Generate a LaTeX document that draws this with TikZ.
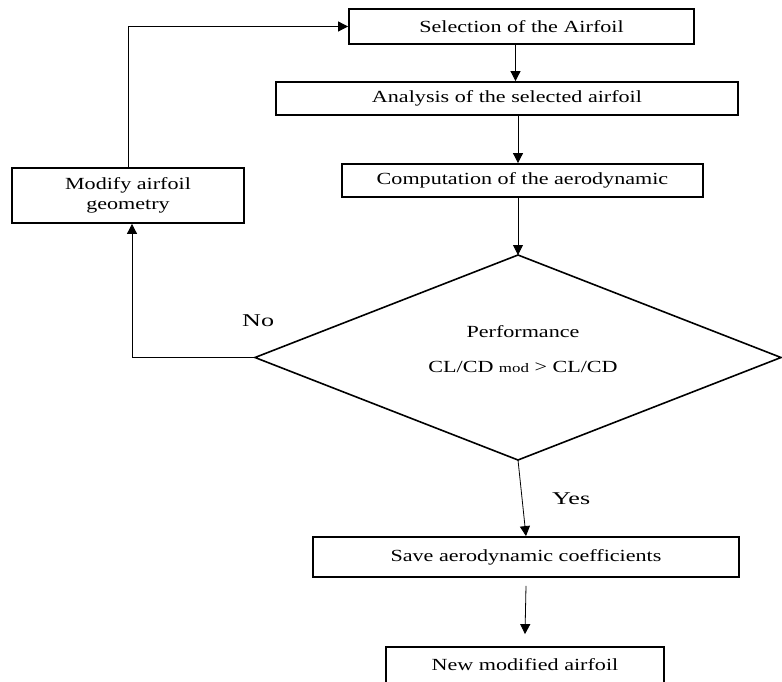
\documentclass[tikz,border=0pt]{standalone}
\usepackage{fontspec}
\setmainfont{Liberation Serif}[FakeStretch=1.3]
\newfontfamily\lblfont{Liberation Serif}[FakeStretch=1.45]
\usetikzlibrary{arrows.meta}
\begin{document}
\begin{tikzpicture}[x=1pt,y=-1pt,
  box/.style={draw,line width=1.8pt,inner sep=0pt,align=center,
    font=\fontsize{17}{20}\selectfont},
  arr/.style={line width=0.8pt,-{Triangle[length=10pt,width=10pt]}},
  plain/.style={line width=0.8pt},
  lbl/.style={font=\lblfont\fontsize{18}{20}\selectfont,anchor=base west,inner sep=0pt},
  dtext/.style={font=\fontsize{17}{20}\selectfont,anchor=base,inner sep=0pt}]
\useasboundingbox (0,0) rectangle (782,682);
% boxes
\node[box,minimum width=345pt,minimum height=35pt] (sel) at (521.5,26.5) {Selection of the Airfoil};
\node[box,minimum width=462pt,minimum height=33pt] (ana) at (507,98.5) {Analysis of the selected airfoil};
\node[box,minimum width=361pt,minimum height=33pt] (comp) at (522.5,180.5) {Computation of the aerodynamic};
\node[box,minimum width=232pt,minimum height=55pt] (mod) at (128,195.5) {Modify airfoil\\geometry};
\node[box,minimum width=426pt,minimum height=40pt] (save) at (526,557) {Save aerodynamic coefficients};
\node[box,minimum width=278pt,minimum height=36pt] (new) at (525,665) {New modified airfoil};
% decision diamond
\coordinate (dt) at (518,255);
\coordinate (dl) at (255,357.5);
\coordinate (db) at (518,460);
\coordinate (dr) at (781,357.5);
\draw[line width=1.6pt,line join=miter] (dt) -- (dr) -- (db) -- (dl) -- cycle;
\node[dtext] (perf) at (523,337) {Performance};
\node[dtext] (cond) at (523,372) {CL/CD {\fontsize{13}{15}\selectfont mod} > CL/CD};
% labels
\node[lbl] (no) at (242,326) {No};
\node[lbl] (yes) at (552,504) {Yes};
% connectors
\draw[arr] ([xshift=-6pt]sel.south) -- ([xshift=-6pt]sel.south |- ana.north);
\draw[arr] ([xshift=11pt]ana.south) -- ([xshift=11pt]ana.south |- comp.north);
\draw[arr] (dt |- comp.south) -- (dt);
\draw[arr] (db) -- (save.north);
\draw[arr] ([yshift=-8pt]save.south) -- ([yshift=12pt]new.north);
\draw[arr] (dl) -- ([xshift=4pt]mod.south |- dl) -- ([xshift=4pt]mod.south);
\draw[arr] (mod.north) -- (mod.north |- sel.west) -- (sel.west);
\end{tikzpicture}
\end{document}
